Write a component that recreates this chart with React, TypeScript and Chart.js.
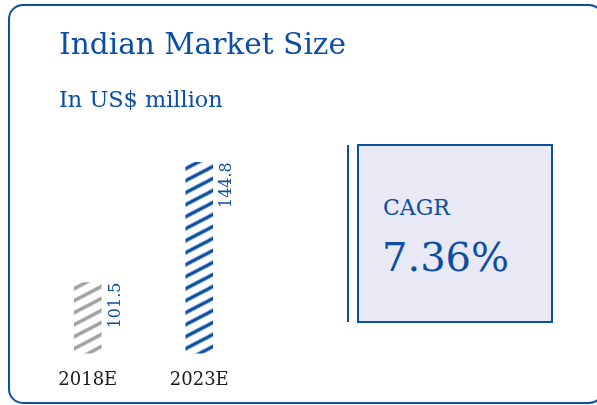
import React, { useEffect, useRef } from "react";
import { Chart, registerables } from "chart.js";
Chart.register(...registerables);

const categories = ["2018E", "2023E"];
const values = [101.5, 144.8];
const valueLabels = ["101.5", "144.8"];
const title = "Indian Market Size";
const subtitle = "In US$ million";
const cagrLabel = "CAGR";
const cagrValue = "7.36%";

const BLUE = "#0b4ea2";
const GRAY = "#9f9f9f";
const FONT = "'DejaVu Serif', serif";

function makeStripe(color: string) {
  const w = 23;
  const h = 12;
  const c = document.createElement("canvas");
  c.width = w;
  c.height = h;
  const ctx = c.getContext("2d")!;
  ctx.strokeStyle = color;
  ctx.lineWidth = 3.4;
  for (const k of [-1, 0, 1]) {
    ctx.beginPath();
    ctx.moveTo(-w, 2 * h + k * h);
    ctx.lineTo(2 * w, -h + k * h);
    ctx.stroke();
  }
  return ctx.createPattern(c, "repeat")!;
}

const alignPlugin = {
  id: "alignStripes",
  beforeDatasetsDraw(chart: any) {
    const meta = chart.getDatasetMeta(0);
    const bg = chart.data.datasets[0].backgroundColor as any[];
    meta.data.forEach((bar: any, i: number) => {
      const p = bg[i];
      if (p && typeof p.setTransform === "function") {
        const left = bar.x - bar.width / 2;
        p.setTransform(new DOMMatrix().translate(left, bar.base));
      }
    });
  },
};

const labelPlugin = {
  id: "vlabels",
  afterDatasetsDraw(chart: any) {
    const ctx = chart.ctx;
    const meta = chart.getDatasetMeta(0);
    meta.data.forEach((bar: any, i: number) => {
      ctx.save();
      ctx.translate(bar.x + 32, bar.y);
      ctx.rotate(-Math.PI / 2);
      ctx.font = `16px ${FONT}`;
      ctx.fillStyle = BLUE;
      ctx.textAlign = "right";
      ctx.textBaseline = "alphabetic";
      ctx.fillText(valueLabels[i], 0, 0);
      ctx.restore();
    });
  },
};

export default function App() {
  const ref = useRef<HTMLCanvasElement>(null);
  useEffect(() => {
    if (!ref.current) return;
    const chart = new Chart(ref.current, {
      type: "bar",
      data: {
        labels: categories,
        datasets: [
          {
            data: values,
            backgroundColor: [makeStripe(GRAY), makeStripe(BLUE)] as any,
            borderWidth: 0,
            barThickness: 27,
          },
        ],
      },
      options: {
        responsive: false,
        animation: false,
        layout: { padding: { left: 32, right: 342, top: 120, bottom: -2 } },
        plugins: { legend: { display: false }, tooltip: { enabled: false } },
        scales: {
          x: {
            grid: { display: false, drawTicks: false },
            border: { display: false },
            ticks: { color: "#1a1a1a", font: { family: FONT, size: 18 }, padding: 16 },
          },
          y: { display: false, min: 76, max: 160 },
        },
      },
      plugins: [alignPlugin, labelPlugin],
    });
    return () => chart.destroy();
  }, []);

  const text = (s: React.CSSProperties): React.CSSProperties => ({
    position: "absolute",
    fontFamily: FONT,
    color: BLUE,
    lineHeight: 1,
    whiteSpace: "nowrap",
    margin: 0,
    ...s,
  });

  return (
    <div style={{ position: "fixed", left: 0, top: 0, width: 597, height: 405, background: "#fff", overflow: "hidden" }}>
      <div
        style={{
          position: "absolute",
          left: 8,
          top: 4,
          width: 596,
          height: 400,
          border: `2px solid ${BLUE}`,
          borderRadius: 15,
          boxSizing: "border-box",
        }}
      />
      <canvas ref={ref} width={597} height={405} style={{ position: "absolute", left: 0, top: 0 }} />
      <div style={text({ left: 59, top: 29.5, fontSize: 29.6 })}>{title}</div>
      <div style={text({ left: 59, top: 87.5, fontSize: 22.4 })}>{subtitle}</div>
      <div style={{ position: "absolute", left: 347, top: 145, width: 2, height: 177, background: BLUE }} />
      <div
        style={{
          position: "absolute",
          left: 357,
          top: 144,
          width: 196,
          height: 179,
          border: `2px solid ${BLUE}`,
          background: "#e9e9f5",
          boxSizing: "border-box",
        }}
      />
      <div style={text({ left: 383, top: 196.5, fontSize: 22 })}>{cagrLabel}</div>
      <div style={text({ left: 382, top: 237, fontSize: 40 })}>{cagrValue}</div>
    </div>
  );
}
